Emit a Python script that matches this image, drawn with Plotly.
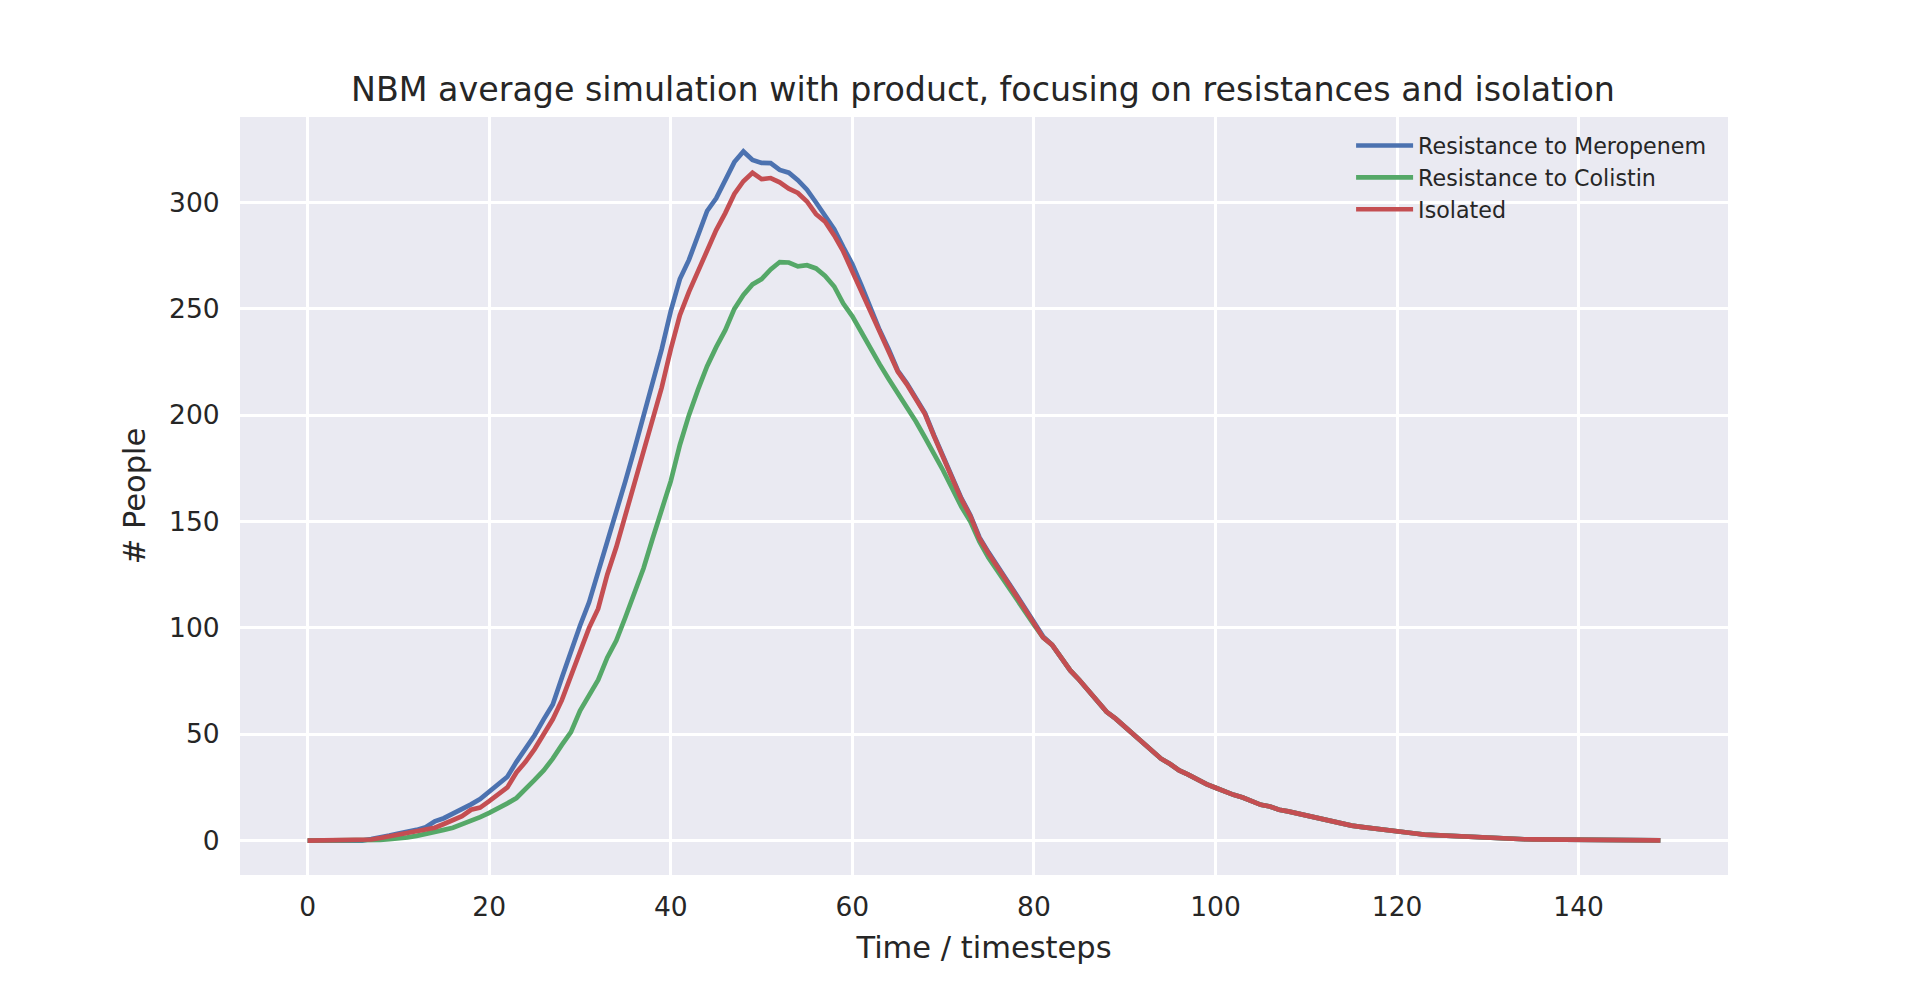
import plotly.graph_objects as go

timesteps = list(range(150))

# Values for t = 0..89 (series differ here)
meropenem_head = [
    0, 0, 0, 0, 0, 0, 0, 0.7, 1.3, 2.3,
    3.3, 4, 5, 6.3, 9, 10.5, 12.5, 14.5, 17, 19.5,
    23, 26, 30, 37, 43, 49.5, 57, 64, 76.5, 89,
    101, 112, 126, 140, 154, 169, 184, 199, 215, 231,
    249, 264, 273, 285, 296, 302, 310, 319, 324, 320,
    318.6, 318.5, 315.3, 314, 310.5, 306, 300, 294, 287.5, 279,
    271, 261, 250, 240, 231, 221, 215, 208, 201, 190.5,
    181, 170.5, 161, 153, 142.5, 135.5, 128.5, 122.5, 116, 109,
    102.5, 96, 92, 86, 80, 75.5, 70.5, 65, 60.5, 57.3,
]
colistin_head = [
    0, 0, 0, 0, 0, 0, 0, 0, 0.3, 0.6,
    0.9, 1.5, 2.2, 3, 4, 5, 6, 7.6, 9.3, 11,
    13, 15, 17.5, 20, 24, 28.5, 33, 38.5, 45, 51,
    61, 68.5, 75.5, 86, 94, 105, 116, 128, 142, 156,
    169, 186, 200, 212, 223, 232, 240, 250, 256.5, 261.5,
    264, 268.5, 272, 271.8, 270, 270.5, 269, 265.5, 260.5, 252.5,
    246.5, 239, 231, 224, 217, 210.5, 204, 197, 189.5, 182,
    174, 165.5, 157, 150, 140.5, 133, 126.5, 120.5, 114, 107.5,
    101.5, 95.5, 92, 86, 80, 75.5, 70.5, 65, 60.5, 57.3,
]
isolated_head = [
    0, 0, 0, 0, 0, 0, 0, 0.5, 1.2, 2,
    2.7, 3.3, 4.3, 5, 6, 7.8, 9.4, 11.5, 14.5, 15.5,
    18.5, 21.5, 25, 32, 37, 43, 49.5, 57, 66, 77,
    89, 100, 109, 125, 138, 153, 167, 182, 196, 213,
    231, 247, 258, 268, 278, 287, 295, 304, 310, 314,
    311, 311.5, 309.5, 306.5, 304.5, 300.5, 294.5, 291, 284.5, 277,
    267.5, 258, 249, 239.5, 230.5, 220.5, 214.5, 207.5, 200.5, 190,
    180.5, 170, 160.5, 152.5, 142, 135, 128, 122, 115.5, 108.5,
    102, 95.5, 92, 86, 80, 75.5, 70.5, 65, 60.5, 57.3,
]
# Values for t = 90..149 (the three curves coincide here)
common_tail = [
    53.5, 50, 46, 42, 38.5, 36, 33, 31, 28.5, 26.5,
    24.8, 23, 21.5, 20.2, 18.5, 16.8, 16, 14.5, 13.7, 12.7,
    11.8, 11, 10.2, 9, 8, 7, 6.4, 5.8, 5.4, 5,
    4.3, 3.8, 3.3, 2.8, 2.6, 2.4, 2.1, 1.9, 1.6, 1.3,
    1.0, 0.9, 0.8, 0.7, 0.6, 0.55, 0.5, 0.45, 0.4, 0.4,
    0.35, 0.3, 0.3, 0.25, 0.2, 0.2, 0.15, 0.15, 0.1, 0.1,
]

meropenem = meropenem_head + common_tail
colistin = colistin_head + common_tail
isolated = isolated_head + common_tail

series_names = ["Resistance to Meropenem", "Resistance to Colistin", "Isolated"]
series_colors = ["#4C72B0", "#55A868", "#C44E52"]
series_values = [meropenem, colistin, isolated]

x_ticks = [0, 20, 40, 60, 80, 100, 120, 140]
y_ticks = [0, 50, 100, 150, 200, 250, 300]

FONT = "DejaVu Sans"
TXT = "#262626"

fig = go.Figure()
for name, color, vals in zip(series_names, series_colors, series_values):
    fig.add_trace(go.Scatter(
        x=timesteps, y=vals, mode="lines", name=name,
        line=dict(color=color, width=4.7),
    ))

fig.update_layout(
    width=1920, height=983,
    paper_bgcolor="white",
    plot_bgcolor="#EAEAF2",
    margin=dict(l=232, r=200, t=109, b=116),
    font=dict(family=FONT, color=TXT, size=26),
    title=dict(
        text="NBM average simulation with product, focusing on resistances and isolation",
        x=0.5078, xanchor="center", y=0.917, yanchor="middle",
        font=dict(family=FONT, size=33.3, color=TXT),
    ),
    showlegend=True,
    legend=dict(
        x=0.7467, y=0.990, xanchor="left", yanchor="top",
        bgcolor="rgba(0,0,0,0)", borderwidth=0,
        font=dict(family=FONT, size=22.2, color=TXT),
        tracegroupgap=0, itemwidth=57,
    ),
)
fig.update_xaxes(
    range=[-7.45, 156.45], tickvals=x_ticks,
    showgrid=True, gridcolor="white", gridwidth=2.8,
    zeroline=False, showline=False,
    ticks="outside", ticklen=8, tickcolor="rgba(0,0,0,0)",
    tickfont=dict(family=FONT, size=26.5, color=TXT),
    title=dict(text="Time / timesteps", font=dict(family=FONT, size=30.5, color=TXT), standoff=15),
)
fig.update_yaxes(
    range=[-16.2, 340.2], tickvals=y_ticks,
    showgrid=True, gridcolor="white", gridwidth=2.8,
    zeroline=False, showline=False,
    ticks="outside", ticklen=14, tickcolor="rgba(0,0,0,0)",
    tickfont=dict(family=FONT, size=26.5, color=TXT),
    title=dict(text="# People", font=dict(family=FONT, size=30.5, color=TXT), standoff=14),
)

fig.write_html("out.html")
